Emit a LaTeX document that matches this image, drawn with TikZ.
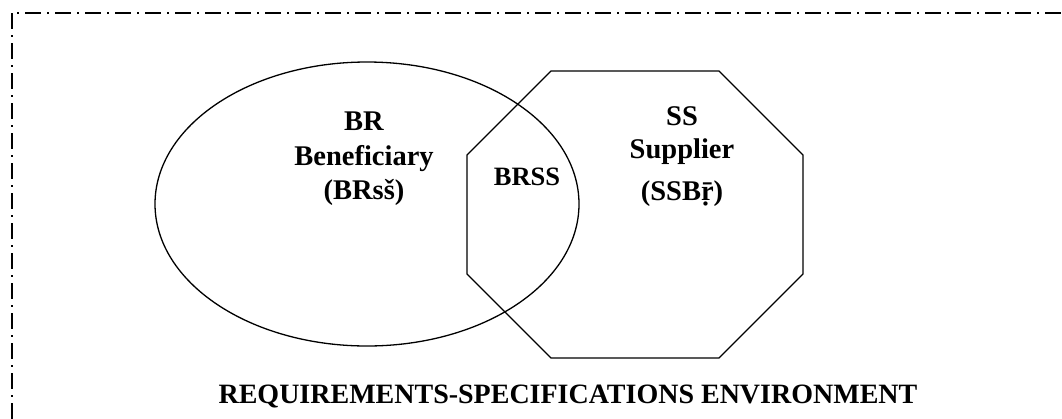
\documentclass[tikz,border=0pt]{standalone}
\usepackage{fontspec}
\setmainfont{Liberation Serif}
\usetikzlibrary{shapes.geometric}

\tikzset{
  region/.style={draw=black, line width=1.3pt},
  frameline/.style={draw=black, line width=1.1pt, dash pattern=on 16pt off 6pt on 2pt off 6pt},
  lbl/.style={inner sep=0pt, anchor=base, font=\bfseries\fontsize{28.5}{34}\selectfont},
  smalllbl/.style={lbl, font=\bfseries\fontsize{26.5}{32}\selectfont},
  caption/.style={lbl, font=\bfseries\fontsize{28}{34}\selectfont},
}

\begin{document}
\begin{tikzpicture}[x=1pt, y=-1pt]
  \useasboundingbox (0,0) rectangle (1062,418);

  % environment frame (runs off the right and bottom edges)
  \coordinate (corner) at (12,13);
  \coordinate (topend) at (1070,13);
  \coordinate (leftend) at (12,430);
  \draw[frameline, dash phase=17pt] (corner) -- (topend);
  \draw[frameline] (corner) -- (leftend);

  % beneficiary region
  \node[region, ellipse, inner sep=0pt, minimum width=424pt, minimum height=284pt] (ben) at (367,204) {};

  % supplier region
  \draw[region, line join=miter]
    (551,71) -- (719,71) -- (803,155) -- (803,274) -- (719,358)
    -- (551,358) -- (467,274) -- (467,155) -- cycle;

  % labels
  \node[lbl] (br1) at (364,130) {BR};
  \node[lbl] (br2) at (364,165) {Beneficiary};
  \node[lbl] (br3) at (364,199) {(BRsš)};

  \node[lbl] (ss1) at (682,125) {SS};
  \node[lbl] (ss2) at (682,158) {Supplier};
  \node[lbl] (ss3) at (682,200) {(SSBṝ)};

  \node[smalllbl] (brss) at (527,185) {BRSS};

  \node[caption] (env) at (568,403) {REQUIREMENTS-SPECIFICATIONS ENVIRONMENT};
\end{tikzpicture}
\end{document}
